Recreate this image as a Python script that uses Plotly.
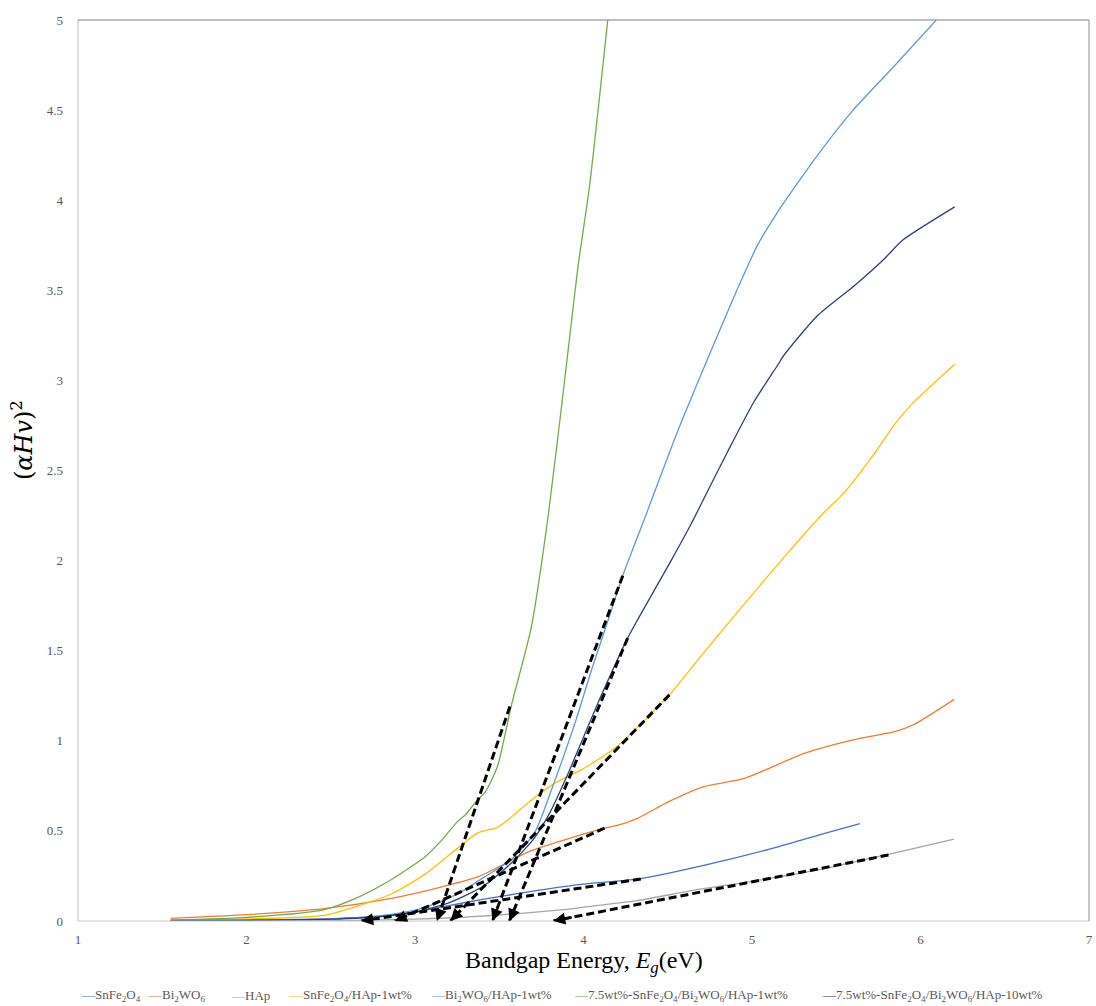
import plotly.graph_objects as go

# ---- data ----
snfe_x = [1.55, 2.0, 2.5, 2.8, 3.0, 3.2, 3.4, 3.6, 3.8, 4.0, 4.34, 4.72, 5.11, 5.40, 5.64]
snfe_y = [0.003, 0.006, 0.012, 0.028, 0.05, 0.085, 0.12, 0.15, 0.18, 0.205, 0.235, 0.31, 0.40, 0.478, 0.54]

bi_x = [1.55, 2.0, 2.47, 2.86, 3.16, 3.376, 3.69, 4.125, 4.2, 4.32, 4.5, 4.715, 4.95, 5.31, 5.6, 5.84, 5.96, 6.2]
bi_y = [0.015, 0.035, 0.07, 0.126, 0.19, 0.246, 0.39, 0.515, 0.53, 0.57, 0.66, 0.746, 0.79, 0.93, 1.005, 1.05, 1.09, 1.23]

hap_x = [1.55, 2.5, 3.0, 3.3, 3.6, 3.9, 4.1, 4.32, 4.68, 5.0, 5.4, 5.81, 6.2]
hap_y = [0.0, 0.002, 0.01, 0.022, 0.04, 0.065, 0.088, 0.113, 0.175, 0.22, 0.285, 0.37, 0.454]

sh_x = [1.55, 2.0, 2.47, 2.86, 3.06, 3.26, 3.376, 3.49, 3.55, 3.69, 3.83, 3.99, 4.2, 4.51, 4.68, 4.91, 5.21, 5.42, 5.55, 5.7, 5.85, 5.95, 6.203]
sh_y = [0.005, 0.012, 0.033, 0.15, 0.26, 0.41, 0.49, 0.52, 0.56, 0.67, 0.765, 0.84, 0.97, 1.255, 1.45, 1.71, 2.04, 2.26, 2.38, 2.56, 2.76, 2.87, 3.09]

bh_x = [1.55, 2.0, 2.5, 2.8, 3.0, 3.1, 3.26, 3.415, 3.57, 3.71, 3.83, 3.95, 4.05, 4.15, 4.233, 4.36, 4.56, 4.755, 4.91, 5.03, 5.149, 5.385, 5.6, 5.85, 6.094]
bh_y = [0.003, 0.005, 0.012, 0.03, 0.06, 0.09, 0.154, 0.246, 0.34, 0.49, 0.78, 1.1, 1.4, 1.68, 1.916, 2.227, 2.72, 3.16, 3.50, 3.745, 3.93, 4.245, 4.5, 4.75, 5.0]

c1_x = [1.55, 2.0, 2.47, 2.67, 2.86, 3.06, 3.16, 3.25, 3.30, 3.36, 3.42, 3.49, 3.573, 3.69, 3.79, 3.898, 3.967, 4.036, 4.144]
c1_y = [0.005, 0.02, 0.065, 0.135, 0.23, 0.357, 0.45, 0.55, 0.59, 0.66, 0.72, 0.86, 1.2, 1.63, 2.245, 3.08, 3.63, 4.08, 5.0]

c10_x = [1.55, 2.0, 2.5, 2.8, 3.0, 3.2, 3.4, 3.57, 3.7, 3.8, 3.9, 4.0, 4.1, 4.262, 4.32, 4.52, 4.637, 4.755, 4.853, 5.011, 5.149, 5.19, 5.385, 5.6, 5.78, 5.897, 6.203]
c10_y = [0.002, 0.004, 0.01, 0.025, 0.05, 0.1, 0.19, 0.32, 0.45, 0.6, 0.8, 1.02, 1.24, 1.57, 1.67, 2.0, 2.2, 2.42, 2.6, 2.88, 3.08, 3.14, 3.356, 3.52, 3.67, 3.78, 3.963]

names = ["SnFe<sub>2</sub>O<sub>4</sub>", "Bi<sub>2</sub>WO<sub>6</sub>", "HAp",
         "SnFe<sub>2</sub>O<sub>4</sub>/HAp-1wt%", "Bi<sub>2</sub>WO<sub>6</sub>/HAp-1wt%",
         "7.5wt%-SnFe<sub>2</sub>O<sub>4</sub>/Bi<sub>2</sub>WO<sub>6</sub>/HAp-1wt%",
         "7.5wt%-SnFe<sub>2</sub>O<sub>4</sub>/Bi<sub>2</sub>WO<sub>6</sub>/HAp-10wt%"]
colors = ["#4472C4", "#ED7D31", "#A5A5A5", "#FFC000", "#5B9BD5", "#70AD47", "#264478"]
series_x = [snfe_x, bi_x, hap_x, sh_x, bh_x, c1_x, c10_x]
series_y = [snfe_y, bi_y, hap_y, sh_y, bh_y, c1_y, c10_y]

# tangent lines: start point on curve (x0, y0) -> intercept on energy axis (xe, 0)
tan_x0 = [4.34, 4.125, 5.81, 4.51, 4.233, 3.563, 4.262]
tan_y0 = [0.233, 0.515, 0.366, 1.255, 1.916, 1.19, 1.57]
tan_xe = [2.68, 2.88, 3.82, 3.21, 3.46, 3.13, 3.56]

# legend entry left edges (pixels from page left)
legend_px = [80, 147, 231, 289, 431, 575, 824]

fig = go.Figure()
for n, c, xs, ys in zip(names, colors, series_x, series_y):
    fig.add_trace(go.Scatter(x=xs, y=ys, mode="lines", name=n, showlegend=False,
                             line=dict(color=c, width=1.3, shape="spline", smoothing=0.6)))

for x0, y0, xe in zip(tan_x0, tan_y0, tan_xe):
    fig.add_trace(go.Scatter(x=[x0, xe], y=[y0, 0], mode="lines", showlegend=False,
                             line=dict(color="black", width=3, dash="8px,4px"),
                             hoverinfo="skip", cliponaxis=False))

serif = "Liberation Serif, Times New Roman, serif"
L, R, T, B = 78, 3, 20, 85
W, H = 1096, 1006
pw, ph = W - L - R, H - T - B

annotations = [
    dict(text="Bandgap Energy, <i>E</i><sub><i>g</i></sub>(eV)", xref="paper", yref="paper",
         x=0.5, y=-41 / ph, xanchor="center", yanchor="middle", showarrow=False,
         font=dict(family=serif, size=24, color="black")),
    dict(text="(<i>αHv</i>)<sup>2</sup>", xref="paper", yref="paper",
         x=-56 / pw, y=0.534, xanchor="center", yanchor="middle", showarrow=False,
         textangle=-90, font=dict(family="DejaVu Serif, serif", size=24, color="black")),
]
# arrow heads at the energy-axis end of each tangent line
for x0, y0, xe in zip(tan_x0, tan_y0, tan_xe):
    f = 0.04 if y0 > 0.8 else 0.06
    annotations.append(dict(
        x=xe, y=0, ax=xe + f * (x0 - xe), ay=f * y0, xref="x", yref="y", axref="x", ayref="y",
        text="", showarrow=True, arrowhead=2, arrowsize=1.1, arrowwidth=2.2,
        arrowcolor="black", standoff=0, startstandoff=0))

for n, c, px in zip(names, colors, legend_px):
    annotations.append(dict(
        text=f'<span style="color:{c}">—</span>{n}', xref="paper", yref="paper",
        x=(px - L) / pw, y=-(995 - (H - B)) / ph, xanchor="left", yanchor="middle",
        showarrow=False, borderpad=0,
        font=dict(family=serif, size=13, color="#595959")))

fig.update_layout(
    width=W, height=H,
    margin=dict(l=L, r=R, t=T, b=B),
    paper_bgcolor="white", plot_bgcolor="white",
    showlegend=False,
    xaxis=dict(range=[1, 7], dtick=1, tick0=1, showgrid=False, zeroline=False, showline=False,
               ticks="", ticklabelstandoff=9, ticklabeloverflow="allow",
               tickfont=dict(family=serif, size=13, color="#595959")),
    yaxis=dict(range=[0, 5], dtick=0.5, showgrid=False, zeroline=False, showline=False,
               ticks="", ticklabelstandoff=14,
               tickfont=dict(family=serif, size=13, color="#595959")),
    shapes=[
        dict(type="line", xref="paper", yref="paper", x0=0, x1=1, y0=0, y1=0,
             line=dict(color="#C8C8C8", width=1)),
        dict(type="line", xref="paper", yref="paper", x0=0, x1=0, y0=0, y1=1,
             line=dict(color="#BFBFBF", width=1)),
        dict(type="line", xref="paper", yref="paper", x0=0, x1=1, y0=1, y1=1,
             line=dict(color="#7F7F7F", width=1.2)),
        dict(type="line", xref="paper", yref="paper", x0=1, x1=1, y0=0, y1=1,
             line=dict(color="#8C8C8C", width=1)),
    ],
    annotations=annotations,
)

fig.write_html("out.html")
